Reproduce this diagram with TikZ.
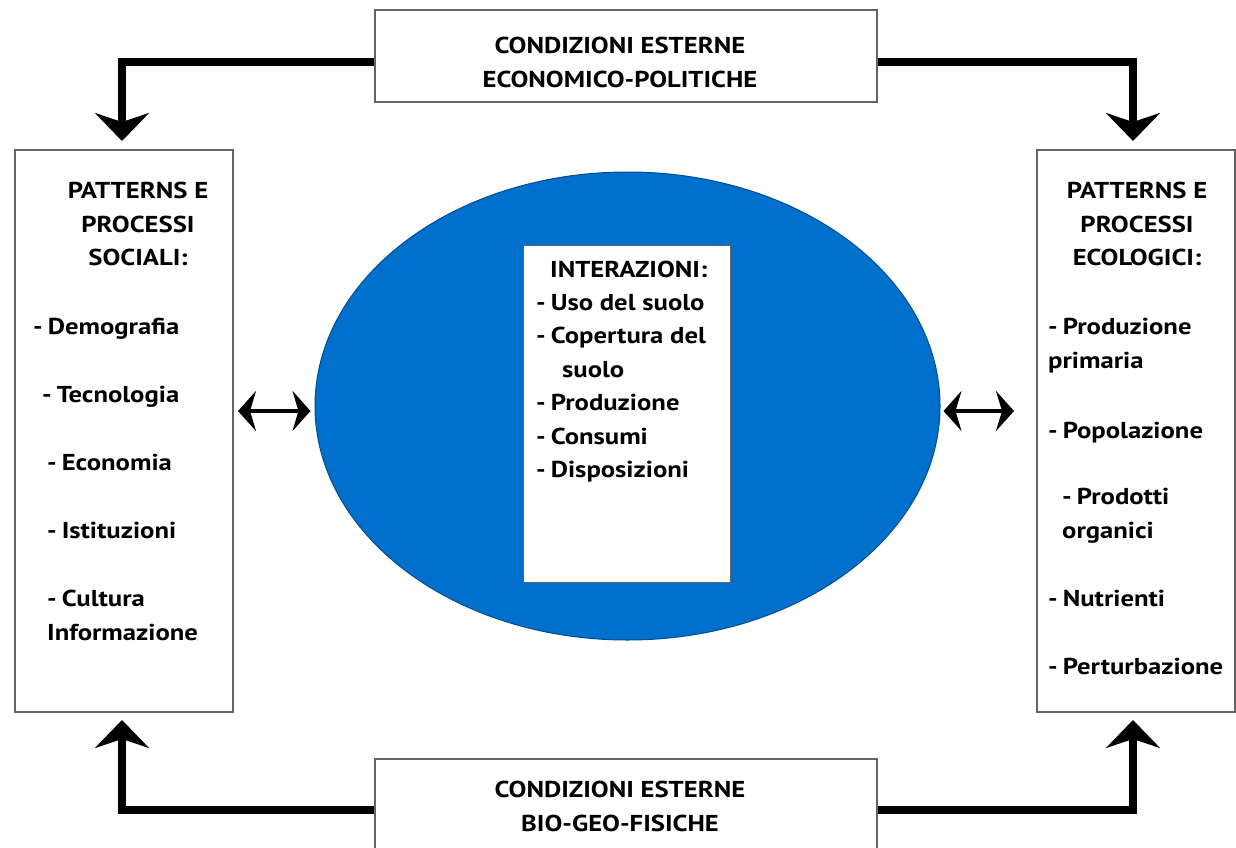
\documentclass[tikz,border=0pt]{standalone}
\usepackage{fontspec}
\setmainfont{PT Sans}[FakeStretch=1.16]
\usetikzlibrary{arrows.meta,shapes.geometric}
\definecolor{ellblue}{RGB}{0,112,204}
\definecolor{boxgray}{RGB}{100,100,100}
\newcommand{\dsh}{-\kern5pt}
\tikzset{
  box/.style={draw=boxgray,line width=2pt,fill=white,rectangle,inner sep=0pt},
  bigarrow/.style={line width=8pt,-{Stealth[length=28pt,width=54pt,inset=9pt]}},
  dblarrow/.style={line width=4pt,{Stealth[length=18pt,width=40pt,inset=6pt]}-{Stealth[length=18pt,width=40pt,inset=6pt]}},
  txt/.style={inner sep=0pt,font=\fontsize{23}{33.5}\selectfont\bfseries},
}
\begin{document}
\begin{tikzpicture}[x=1pt,y=-1pt]
\useasboundingbox (0,0) rectangle (1236,848);
% boxes
\node[box,minimum width=502pt,minimum height=92pt] (top) at (626,56) {};
\node[box,minimum width=502pt,minimum height=102pt] (bot) at (626,810) {};
\node[box,minimum width=218pt,minimum height=562pt] (left) at (124,431) {};
\node[box,minimum width=198pt,minimum height=562pt] (right) at (1136,431) {};
\node[ellipse,fill=ellblue,draw=ellblue!70!black,line width=1pt,minimum width=625pt,minimum height=468pt,inner sep=0pt] (ell) at (627.5,406) {};
\node[draw=boxgray,line width=1pt,fill=white,inner sep=0pt,minimum width=207pt,minimum height=337pt] (inner) at (626.5,413.5) {};
% connectors
\coordinate (tl) at ([yshift=-6pt]top.west);
\coordinate (tr) at ([yshift=-6pt]top.east);
\draw[bigarrow,shorten >=8pt] (tl) -| ([xshift=-2pt]left.north);
\draw[bigarrow,shorten >=8pt] (tr) -| ([xshift=-3pt]right.north);
\draw[bigarrow,shorten >=7pt] (bot.west) -| ([xshift=-2pt]left.south);
\draw[bigarrow,shorten >=7pt] (bot.east) -| ([xshift=-3pt]right.south);
\draw[dblarrow] ([xshift=4pt,yshift=-5pt]left.east |- ell.west) -- ([xshift=-4pt,yshift=-5pt]ell.west);
\draw[dblarrow] ([xshift=3pt,yshift=-5pt]ell.east) -- ([xshift=-22pt,yshift=-5pt]right.west |- ell.east);
% top / bottom text
\node[txt,align=center,anchor=north] (ttxt) at (620,37) {CONDIZIONI ESTERNE\\ECONOMICO-POLITICHE};
\node[txt,align=center,anchor=north] (btxt) at (620,781) {CONDIZIONI ESTERNE\\BIO-GEO-FISICHE};
% left
\node[txt,align=center,anchor=north] (lh) at (138,182) {PATTERNS E\\PROCESSI\\SOCIALI:};
\node[txt,anchor=north west] (l1) at (33,318) {\dsh Demografia};
\node[txt,anchor=north west] (l2) at (42,386) {\dsh Tecnologia};
\node[txt,anchor=north west] (l3) at (47,454) {\dsh Economia};
\node[txt,anchor=north west] (l4) at (47,522) {\dsh Istituzioni};
\node[txt,anchor=north west,align=left] (l5) at (47,590) {\dsh Cultura\\Informazione};
% right
\node[txt,align=center,anchor=north] (rh) at (1137,182) {PATTERNS E\\PROCESSI\\ECOLOGICI:};
\node[txt,anchor=north west,align=left] (r1) at (1048,318) {\dsh Produzione\\primaria};
\node[txt,anchor=north west] (r2) at (1048,422) {\dsh Popolazione};
\node[txt,anchor=north west,align=left] (r3) at (1062,488) {\dsh Prodotti\\organici};
\node[txt,anchor=north west] (r4) at (1048,590) {\dsh Nutrienti};
\node[txt,anchor=north west] (r5) at (1048,658) {\dsh Perturbazione};
% center
\node[txt,anchor=north west] (ch) at (550,261) {INTERAZIONI:};
\node[txt,anchor=north west,align=left] (c1) at (536,294) {\dsh Uso del suolo\\\dsh Copertura del\\\hspace*{26pt}suolo\\\dsh Produzione\\\dsh Consumi\\\dsh Disposizioni};
\end{tikzpicture}
\end{document}
